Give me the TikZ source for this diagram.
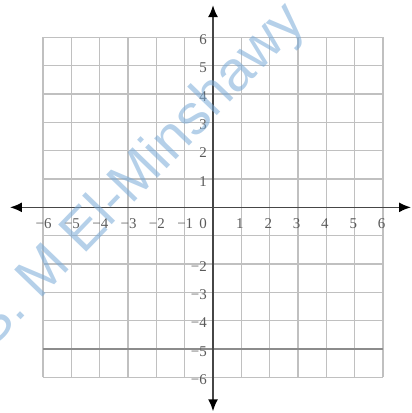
\documentclass[tikz,border=0pt]{standalone}
\usepackage{fontspec}
\setmainfont{Liberation Serif}
\newfontfamily\wmfont{Liberation Sans}
\usetikzlibrary{arrows.meta}
\definecolor{gridgray}{RGB}{192,192,192}
\definecolor{axisgray}{RGB}{70,70,70}
\definecolor{labelgray}{RGB}{90,90,90}
\definecolor{wmblue}{RGB}{120,170,215}
\tikzset{
  gridline/.style={draw=gridgray, line width=1.3pt},
  darkline/.style={draw=black!45, line width=1.3pt},
  axisline/.style={draw=axisgray, line width=1.7pt, -{Latex[length=12pt,width=10pt,color=black]}},
  xlab/.style={inner sep=0pt, anchor=center, text=labelgray, font=\fontsize{15}{17}\selectfont},
  ylab/.style={inner sep=0pt, anchor=east, text=labelgray, font=\fontsize{15}{17}\selectfont},
  watermark/.style={inner sep=0pt, text=wmblue, text opacity=0.55, font=\wmfont\fontsize{57}{60}\selectfont, rotate=46}
}
\begin{document}
\begin{tikzpicture}
\useasboundingbox (-7.52,-7.26) rectangle (6.99,7.32);
% grid
\draw[gridline] (-6,-6) grid (6,6);
\draw[darkline] (-6,-5) -- (6,-5);
% axes
\coordinate (xl) at (-7.17,0);
\coordinate (xr) at (6.99,0);
\coordinate (yb) at (0,-7.2);
\coordinate (yt) at (0,7.14);
\coordinate (o) at (0,0);
\draw[axisline] (o) -- (xl);
\draw[axisline] (o) -- (xr);
\draw[axisline] (o) -- (yt);
\draw[axisline] (o) -- (yb);
% x labels
\foreach \i in {1,...,6} {
  \node[xlab] (xp\i) at (\i-0.05,-0.58) {\i};
  \node[xlab] (xn\i) at (-\i+0.02,-0.58) {−\i};
}
\node[xlab] (x0) at (-0.35,-0.58) {0};
% y labels
\foreach \i in {1,...,6} {
  \node[ylab] (yp\i) at (-0.21,\i-0.08) {\i};
}
\foreach \i in {2,...,6} {
  \node[ylab] (yn\i) at (-0.21,-\i-0.08) {−\i};
}
% watermark
\node[watermark] (wm) at (-2.62,1.08) {S. M El-Minshawy};
\end{tikzpicture}
\end{document}
